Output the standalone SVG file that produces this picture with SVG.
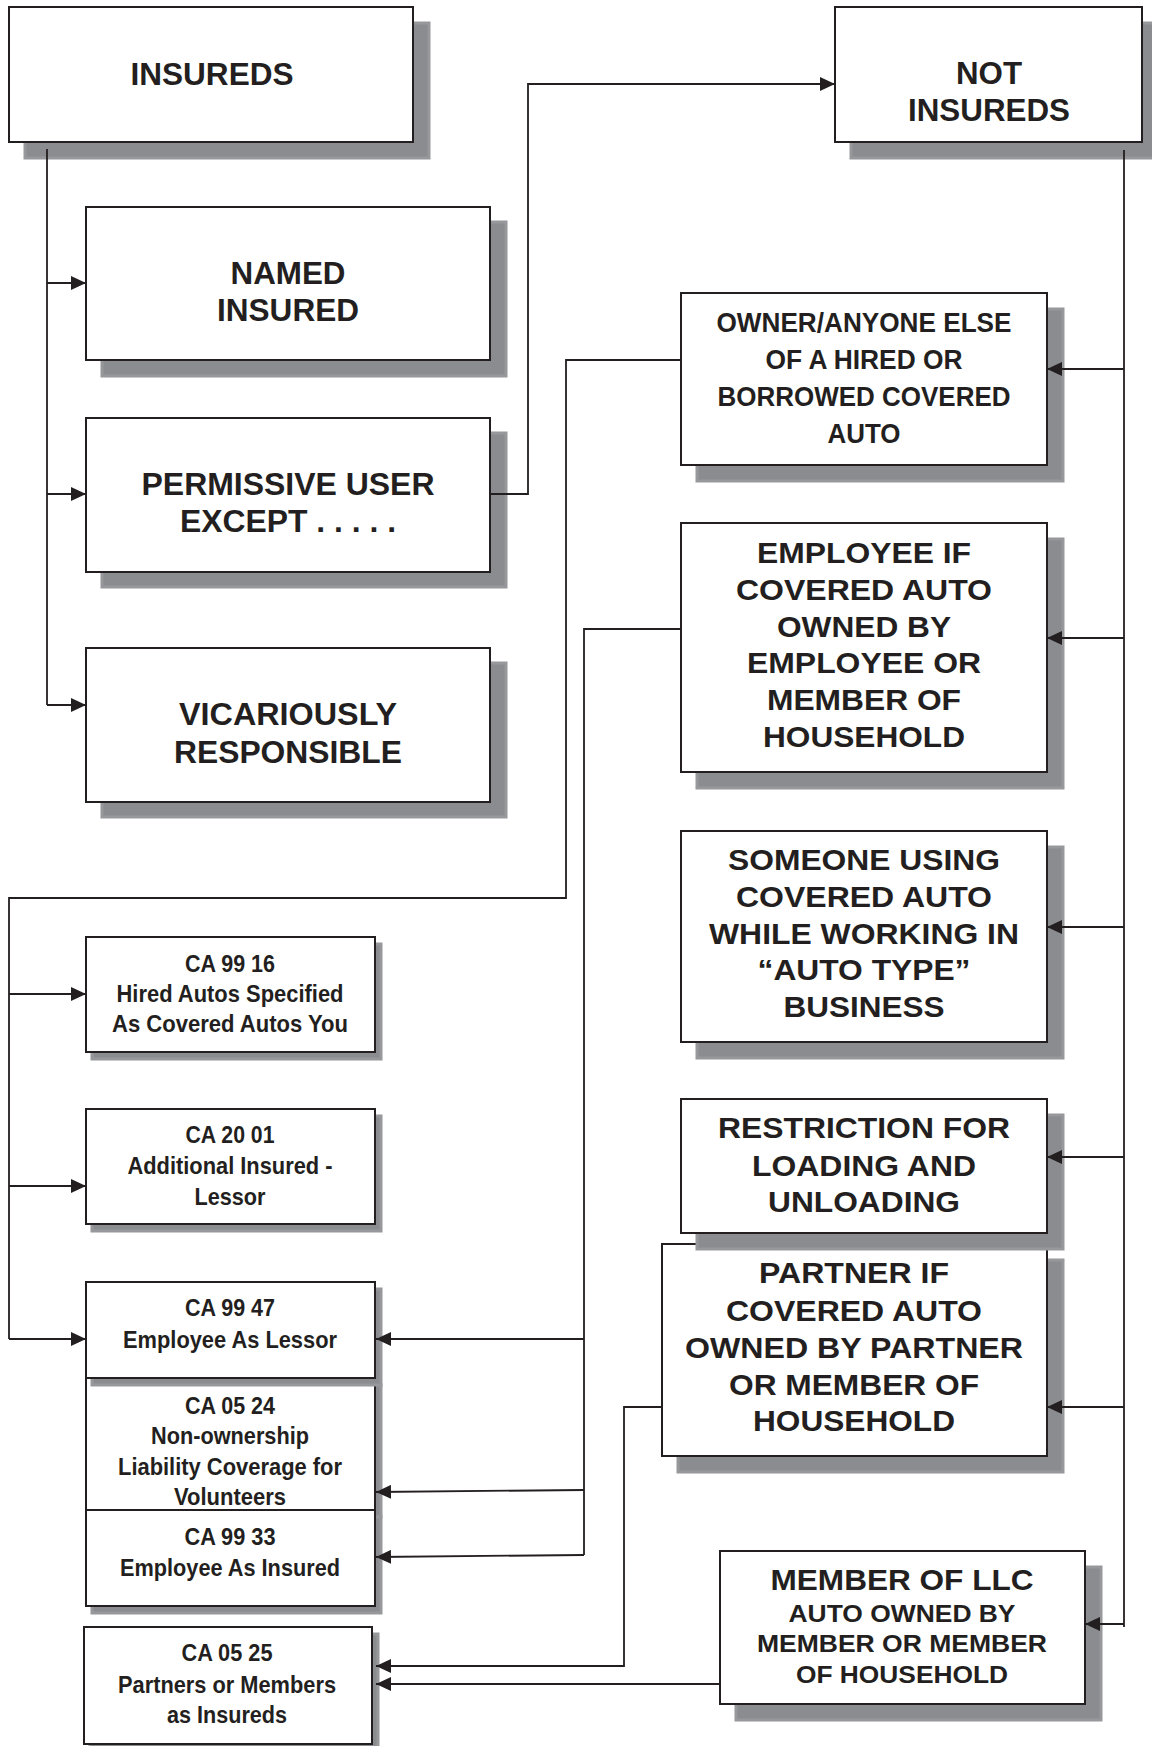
<svg xmlns="http://www.w3.org/2000/svg" width="1152" height="1746" viewBox="0 0 1152 1746">
<defs>
<marker id="arr" markerUnits="userSpaceOnUse" markerWidth="15" markerHeight="14" refX="15" refY="7" orient="auto">
<path d="M0,0 L15,7 L0,14 z" fill="#231f20"/>
</marker>
</defs>
<style>
.box{fill:#ffffff;stroke:#231f20;stroke-width:2}
.sh{fill:#8b8c90;stroke:#97989c;stroke-width:3}
.t{font-family:"Liberation Sans",Arial,sans-serif;font-weight:bold;fill:#231f20;text-anchor:middle}
.b31{font-size:31px}
.b30{font-size:30px}
.b27{font-size:27px}
.b23{font-size:23px}
.c24{font-size:24px}
.ln{fill:none;stroke:#231f20;stroke-width:1.8}
</style>
<rect width="1152" height="1746" fill="#ffffff"/>

<g id="insureds">
<rect class="sh" x="25" y="23" width="404" height="135"/>
<rect class="box" x="9" y="7" width="404" height="135"/>
<text class="t b31" x="212" y="85" textLength="163" lengthAdjust="spacingAndGlyphs">INSUREDS</text>
</g>

<g id="named-insured">
<rect class="sh" x="102" y="222" width="404" height="154"/>
<rect class="box" x="86" y="207" width="404" height="153"/>
<text class="t b31" x="288" y="284" textLength="115" lengthAdjust="spacingAndGlyphs">NAMED</text>
<text class="t b31" x="288" y="321" textLength="142" lengthAdjust="spacingAndGlyphs">INSURED</text>
</g>

<g id="permissive-user">
<rect class="sh" x="102" y="433" width="404" height="154"/>
<rect class="box" x="86" y="418" width="404" height="154"/>
<text class="t b31" x="288" y="495" textLength="293" lengthAdjust="spacingAndGlyphs">PERMISSIVE USER</text>
<text class="t b31" x="288" y="532" textLength="216" lengthAdjust="spacingAndGlyphs">EXCEPT . . . . .</text>
</g>

<g id="vicariously">
<rect class="sh" x="102" y="663" width="404" height="154"/>
<rect class="box" x="86" y="648" width="404" height="154"/>
<text class="t b31" x="288" y="725" textLength="218" lengthAdjust="spacingAndGlyphs">VICARIOUSLY</text>
<text class="t b31" x="288" y="763" textLength="228" lengthAdjust="spacingAndGlyphs">RESPONSIBLE</text>
</g>

<g id="not-insureds">
<rect class="sh" x="851" y="23" width="307" height="135"/>
<rect class="box" x="835" y="7" width="307" height="135"/>
<text class="t b31" x="989" y="84" textLength="66" lengthAdjust="spacingAndGlyphs">NOT</text>
<text class="t b31" x="989" y="121" textLength="162" lengthAdjust="spacingAndGlyphs">INSUREDS</text>
</g>

<g id="owner">
<rect class="sh" x="697" y="309" width="366" height="172"/>
<rect class="box" x="681" y="293" width="366" height="172"/>
<text class="t b27" x="864" y="332" textLength="295" lengthAdjust="spacingAndGlyphs">OWNER/ANYONE ELSE</text>
<text class="t b27" x="864" y="369" textLength="197" lengthAdjust="spacingAndGlyphs">OF A HIRED OR</text>
<text class="t b27" x="864" y="406" textLength="293" lengthAdjust="spacingAndGlyphs">BORROWED COVERED</text>
<text class="t b27" x="864" y="443" textLength="73" lengthAdjust="spacingAndGlyphs">AUTO</text>
</g>

<g id="employee">
<rect class="sh" x="697" y="539" width="366" height="249"/>
<rect class="box" x="681" y="523" width="366" height="249"/>
<text class="t b30" x="864" y="563" textLength="214" lengthAdjust="spacingAndGlyphs">EMPLOYEE IF</text>
<text class="t b30" x="864" y="600" textLength="256" lengthAdjust="spacingAndGlyphs">COVERED AUTO</text>
<text class="t b30" x="864" y="637" textLength="174" lengthAdjust="spacingAndGlyphs">OWNED BY</text>
<text class="t b30" x="864" y="673" textLength="234" lengthAdjust="spacingAndGlyphs">EMPLOYEE OR</text>
<text class="t b30" x="864" y="710" textLength="194" lengthAdjust="spacingAndGlyphs">MEMBER OF</text>
<text class="t b30" x="864" y="747" textLength="202" lengthAdjust="spacingAndGlyphs">HOUSEHOLD</text>
</g>

<g id="someone-using">
<rect class="sh" x="697" y="847" width="366" height="211"/>
<rect class="box" x="681" y="831" width="366" height="211"/>
<text class="t b30" x="864" y="870" textLength="272" lengthAdjust="spacingAndGlyphs">SOMEONE USING</text>
<text class="t b30" x="864" y="907" textLength="256" lengthAdjust="spacingAndGlyphs">COVERED AUTO</text>
<text class="t b30" x="864" y="944" textLength="310" lengthAdjust="spacingAndGlyphs">WHILE WORKING IN</text>
<text class="t b30" x="864" y="980" textLength="213" lengthAdjust="spacingAndGlyphs">“AUTO TYPE”</text>
<text class="t b30" x="864" y="1017" textLength="161" lengthAdjust="spacingAndGlyphs">BUSINESS</text>
</g>

<g id="partner">
<rect class="sh" x="678" y="1260" width="385" height="212"/>
<rect class="box" x="662" y="1244" width="385" height="212"/>
<text class="t b30" x="854" y="1283" textLength="190" lengthAdjust="spacingAndGlyphs">PARTNER IF</text>
<text class="t b30" x="854" y="1321" textLength="256" lengthAdjust="spacingAndGlyphs">COVERED AUTO</text>
<text class="t b30" x="854" y="1358" textLength="338" lengthAdjust="spacingAndGlyphs">OWNED BY PARTNER</text>
<text class="t b30" x="854" y="1395" textLength="250" lengthAdjust="spacingAndGlyphs">OR MEMBER OF</text>
<text class="t b30" x="854" y="1431" textLength="202" lengthAdjust="spacingAndGlyphs">HOUSEHOLD</text>
</g>

<g id="restriction">
<rect class="sh" x="697" y="1115" width="366" height="134"/>
<rect class="box" x="681" y="1099" width="366" height="134"/>
<text class="t b30" x="864" y="1138" textLength="292" lengthAdjust="spacingAndGlyphs">RESTRICTION FOR</text>
<text class="t b30" x="864" y="1176" textLength="224" lengthAdjust="spacingAndGlyphs">LOADING AND</text>
<text class="t b30" x="864" y="1212" textLength="192" lengthAdjust="spacingAndGlyphs">UNLOADING</text>
</g>

<g id="member-llc">
<rect class="sh" x="736" y="1567" width="365" height="153"/>
<rect class="box" x="720" y="1551" width="365" height="153"/>
<text class="t b30" x="902" y="1590" textLength="263" lengthAdjust="spacingAndGlyphs">MEMBER OF LLC</text>
<text class="t b23" x="902" y="1622" textLength="227" lengthAdjust="spacingAndGlyphs">AUTO OWNED BY</text>
<text class="t b23" x="902" y="1652" textLength="290" lengthAdjust="spacingAndGlyphs">MEMBER OR MEMBER</text>
<text class="t b23" x="902" y="1683" textLength="212" lengthAdjust="spacingAndGlyphs">OF HOUSEHOLD</text>
</g>

<g id="ca9916">
<rect class="sh" x="92" y="944" width="289" height="115"/>
<rect class="box" x="86" y="937" width="289" height="115"/>
<text class="t c24" x="230" y="972" textLength="90" lengthAdjust="spacingAndGlyphs">CA 99 16</text>
<text class="t c24" x="230" y="1002" textLength="227" lengthAdjust="spacingAndGlyphs">Hired Autos Specified</text>
<text class="t c24" x="230" y="1032" textLength="236" lengthAdjust="spacingAndGlyphs">As Covered Autos You</text>
</g>

<g id="ca2001">
<rect class="sh" x="92" y="1116" width="289" height="115"/>
<rect class="box" x="86" y="1109" width="289" height="115"/>
<text class="t c24" x="230" y="1143" textLength="89" lengthAdjust="spacingAndGlyphs">CA 20 01</text>
<text class="t c24" x="230" y="1174" textLength="205" lengthAdjust="spacingAndGlyphs">Additional Insured -</text>
<text class="t c24" x="230" y="1205" textLength="71" lengthAdjust="spacingAndGlyphs">Lessor</text>
</g>

<g id="ca0524">
<rect class="sh" x="92" y="1385" width="289" height="132"/>
<rect class="box" x="86" y="1378" width="289" height="134"/>
<text class="t c24" x="230" y="1414" textLength="90" lengthAdjust="spacingAndGlyphs">CA 05 24</text>
<text class="t c24" x="230" y="1444" textLength="158" lengthAdjust="spacingAndGlyphs">Non-ownership</text>
<text class="t c24" x="230" y="1475" textLength="224" lengthAdjust="spacingAndGlyphs">Liability Coverage for</text>
<text class="t c24" x="230" y="1505" textLength="112" lengthAdjust="spacingAndGlyphs">Volunteers</text>
</g>

<g id="ca9947">
<rect class="sh" x="92" y="1289" width="289" height="96"/>
<rect class="box" x="86" y="1282" width="289" height="96"/>
<text class="t c24" x="230" y="1316" textLength="90" lengthAdjust="spacingAndGlyphs">CA 99 47</text>
<text class="t c24" x="230" y="1348" textLength="214" lengthAdjust="spacingAndGlyphs">Employee As Lessor</text>
</g>

<g id="ca9933">
<rect class="sh" x="92" y="1517" width="289" height="96"/>
<rect class="box" x="86" y="1510" width="289" height="96"/>
<text class="t c24" x="230" y="1545" textLength="91" lengthAdjust="spacingAndGlyphs">CA 99 33</text>
<text class="t c24" x="230" y="1576" textLength="220" lengthAdjust="spacingAndGlyphs">Employee As Insured</text>
</g>

<g id="ca0525">
<rect class="sh" x="90" y="1634" width="288" height="117"/>
<rect class="box" x="84" y="1627" width="288" height="117"/>
<text class="t c24" x="227" y="1661" textLength="91" lengthAdjust="spacingAndGlyphs">CA 05 25</text>
<text class="t c24" x="227" y="1693" textLength="218" lengthAdjust="spacingAndGlyphs">Partners or Members</text>
<text class="t c24" x="227" y="1723" textLength="120" lengthAdjust="spacingAndGlyphs">as Insureds</text>
</g>

<g id="connectors">
<path class="ln" d="M47,149 V705"/>
<path class="ln" d="M47,283 H86" marker-end="url(#arr)"/>
<path class="ln" d="M47,494 H86" marker-end="url(#arr)"/>
<path class="ln" d="M47,705 H86" marker-end="url(#arr)"/>
<path class="ln" d="M490,494 H528 V84 H835" marker-end="url(#arr)"/>
<path class="ln" d="M1124,150 V1627"/>
<path class="ln" d="M1124,369 H1047" marker-end="url(#arr)"/>
<path class="ln" d="M1124,638 H1047" marker-end="url(#arr)"/>
<path class="ln" d="M1124,927 H1047" marker-end="url(#arr)"/>
<path class="ln" d="M1124,1157 H1047" marker-end="url(#arr)"/>
<path class="ln" d="M1124,1407 H1047" marker-end="url(#arr)"/>
<path class="ln" d="M1124,1624 H1085" marker-end="url(#arr)"/>
<path class="ln" d="M681,360 H566 V898 H9 V1339"/>
<path class="ln" d="M9,994 H86" marker-end="url(#arr)"/>
<path class="ln" d="M9,1186 H86" marker-end="url(#arr)"/>
<path class="ln" d="M9,1339 H86" marker-end="url(#arr)"/>
<path class="ln" d="M681,629 H584 V1555"/>
<path class="ln" d="M584,1339 H376" marker-end="url(#arr)"/>
<path class="ln" d="M584,1490 L376,1492" marker-end="url(#arr)"/>
<path class="ln" d="M584,1555 L376,1557" marker-end="url(#arr)"/>
<path class="ln" d="M662,1407 H624 V1666 H376" marker-end="url(#arr)"/>
<path class="ln" d="M720,1684 H376" marker-end="url(#arr)"/>
</g>
</svg>
